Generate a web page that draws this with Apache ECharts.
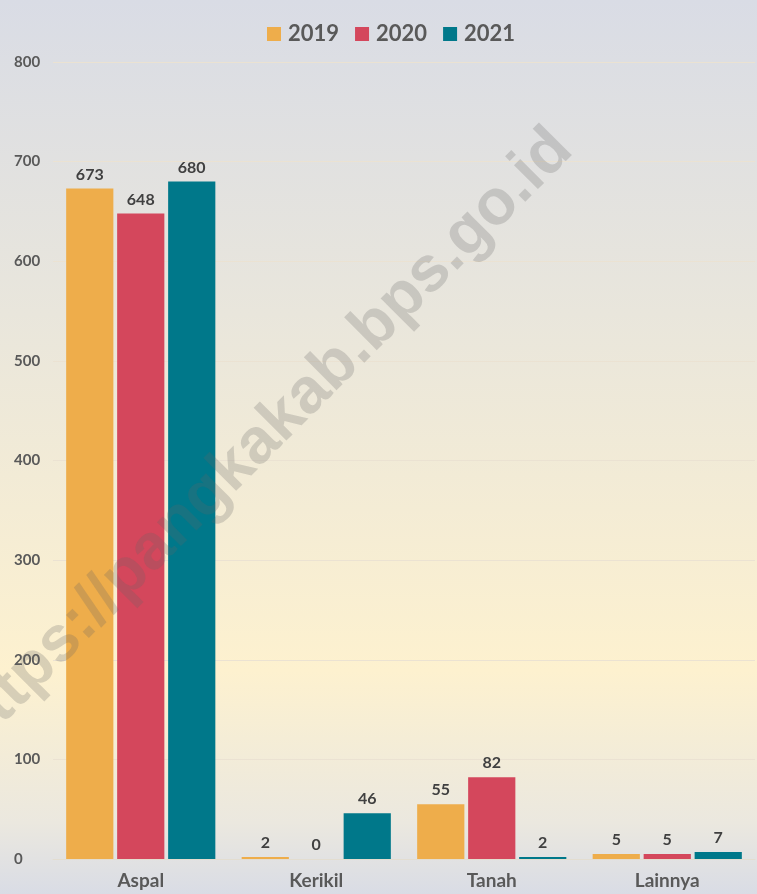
<!DOCTYPE html>
<html>
<head>
<meta charset="utf-8">
<style>
html,body{margin:0;padding:0;background:#ffffff;}
#chart{position:absolute;left:0;top:0;width:757px;height:894px;}
</style>
<script src="https://cdn.jsdelivr.net/npm/echarts@6/dist/echarts.min.js"></script>
</head>
<body>
<div id="chart"></div>
<script>
const categories = ['Aspal', 'Kerikil', 'Tanah', 'Lainnya'];
const seriesNames = ['2019', '2020', '2021'];
const values2019 = [673, 2, 55, 5];
const values2020 = [648, 0, 82, 5];
const values2021 = [680, 46, 2, 7];
const yTicks = [0, 100, 200, 300, 400, 500, 600, 700, 800];
const colors = ['#EEAD4B', '#D4475C', '#00788A'];
const FONT = 'Lato, "Open Sans", sans-serif';

const chart = echarts.init(document.getElementById('chart'));
const allValues = [values2019, values2020, values2021];

chart.setOption({
  backgroundColor: {
    type: 'linear', x: 0, y: 0, x2: 0, y2: 1,
    colorStops: [
      {offset: 0, color: '#d9dce5'},
      {offset: 0.35, color: '#e9e6dc'},
      {offset: 0.75, color: '#fdf1cf'},
      {offset: 0.92, color: '#ebe8df'},
      {offset: 1, color: '#d9dce5'}
    ]
  },
  animation: false,
  textStyle: {fontFamily: FONT},
  legend: {
    left: 262, top: 18,
    itemWidth: 14, itemHeight: 14, itemGap: 16,
    icon: 'rect',
    textStyle: {fontFamily: FONT, fontSize: 22, fontWeight: 'bold', color: '#595959', padding: [0, 0, 0, 2]},
    data: seriesNames
  },
  grid: {left: 53, right: 2, top: 62, bottom: 35},
  xAxis: {
    type: 'category',
    data: categories,
    axisLine: {show: true, lineStyle: {color: '#e3ddd0', width: 1}},
    axisTick: {show: false},
    axisLabel: {fontFamily: FONT, fontSize: 19, fontWeight: 'bold', color: '#595959', margin: 12}
  },
  yAxis: {
    type: 'value',
    min: yTicks[0], max: yTicks[yTicks.length - 1], interval: 100,
    axisLine: {show: false},
    axisTick: {show: false},
    splitLine: {lineStyle: {color: '#ebe2d2', width: 1}},
    axisLabel: {fontFamily: FONT, fontSize: 15, fontWeight: 'bold', color: '#595959', align: 'left', margin: 39}
  },
  graphic: [{
    type: 'text',
    x: 262, y: 440,
    rotation: Math.PI / 4,
    style: {
      text: 'https://pangkakab.bps.go.id',
      fontFamily: '"Liberation Sans", Arial, sans-serif', fontSize: 64, fontWeight: 'bold',
      fill: 'rgba(100,100,100,0.24)',
      align: 'center', verticalAlign: 'middle'
    },
    z: 100
  }],
  series: seriesNames.map((name, i) => ({
    name: name,
    type: 'bar',
    data: allValues[i],
    barGap: '8%',
    barCategoryGap: '15%',
    itemStyle: {color: colors[i]},
    label: {
      show: true, position: 'top', distance: 6,
      fontFamily: FONT, fontSize: 16, fontWeight: 'bold', color: '#404040'
    }
  }))
});
</script>
</body>
</html>
